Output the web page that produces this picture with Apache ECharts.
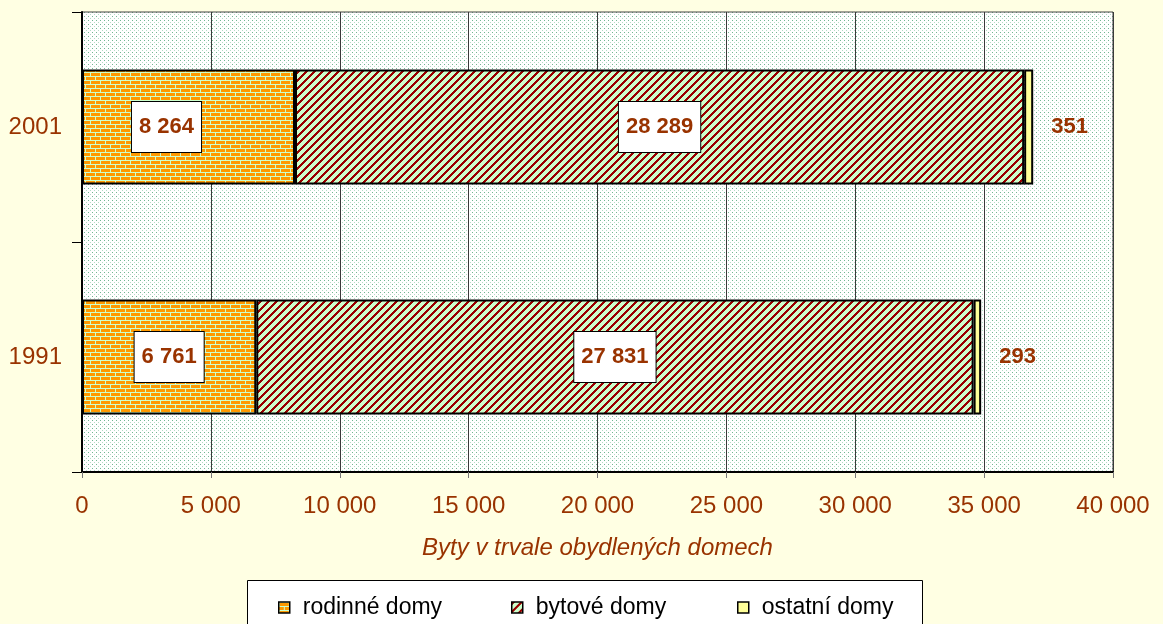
<!DOCTYPE html>
<html><head><meta charset="utf-8">
<script src="https://cdn.jsdelivr.net/npm/echarts@6/dist/echarts.min.js"></script>
<style>html,body{margin:0;padding:0;background:#FFFFE3;}#c{width:1163px;height:624px;}</style>
</head><body><div id="c"></div>
<script>
var categories = ['1991', '2001'];
var rodinne = [6761, 8264];
var bytove = [27831, 28289];
var ostatni = [293, 351];
var seriesNames = ['rodinné domy', 'bytové domy', 'ostatní domy'];
var xTicks = [0, 5000, 10000, 15000, 20000, 25000, 30000, 35000, 40000];
var axisTitle = 'Byty v trvale obydlených domech';

function fmt(v) { return String(v).replace(/\B(?=(\d{3})+(?!\d))/g, ' '); }

function makeTile(w, h, fn) {
  var c = document.createElement('canvas'); c.width = w; c.height = h;
  var ctx = c.getContext('2d'); fn(ctx, w, h); return c;
}
var dots = makeTile(4, 4, function (ctx) {
  ctx.fillStyle = '#ffffff'; ctx.fillRect(0, 0, 4, 4);
  ctx.fillStyle = '#72B692'; ctx.fillRect(0, 0, 1, 1);
  ctx.fillStyle = '#B4DCC5'; ctx.fillRect(2, 2, 1, 1);
});
var bricks = makeTile(20, 8, function (ctx) {
  ctx.fillStyle = '#CCFFCC'; ctx.fillRect(0, 0, 20, 8);
  ctx.fillStyle = '#FF9900';
  ctx.fillRect(1, 1, 9, 3); ctx.fillRect(11, 1, 9, 3);
  ctx.fillRect(0, 5, 5, 3); ctx.fillRect(6, 5, 9, 3); ctx.fillRect(16, 5, 4, 3);
});
var stripes = makeTile(8, 8, function (ctx) {
  ctx.fillStyle = '#CCFFCC'; ctx.fillRect(0, 0, 8, 8);
  ctx.fillStyle = '#990000';
  for (var x = 0; x < 8; x++) for (var y = 0; y < 8; y++) if ((x + y) % 8 < 3) ctx.fillRect(x, y, 1, 1);
});

var FONT = 'Liberation Sans, Arial, sans-serif';
var labelBox = {
  show: true, position: 'inside', formatter: function (p) { return fmt(p.value); },
  color: '#993300', fontFamily: FONT, fontWeight: 'bold', fontSize: 22,
  backgroundColor: '#ffffff', borderColor: '#000', borderWidth: 1, padding: [15, 7, 13, 7]
};
var txt = { color: '#993300', fontFamily: FONT, fontSize: 24 };

var chart = echarts.init(document.getElementById('c'));
chart.setOption({
  backgroundColor: '#FFFFE3',
  animation: false,
  grid: { left: 82, right: 50, top: 12, bottom: 152, show: true, backgroundColor: { image: dots, repeat: 'repeat' }, borderColor: '#444', borderWidth: 1 },
  xAxis: {
    type: 'value', min: 0, max: 40000, interval: 5000,
    axisLine: { show: true, lineStyle: { color: '#000', width: 2 } },
    axisTick: { show: true, length: 6, lineStyle: { color: '#777' } },
    axisLabel: Object.assign({ margin: 22, formatter: function (v) { return fmt(v); } }, txt),
    splitLine: { show: true, lineStyle: { color: '#3a3a3a', width: 1 } },
    name: axisTitle, nameLocation: 'middle', nameGap: 64,
    nameTextStyle: { color: '#993300', fontFamily: FONT, fontSize: 24, fontStyle: 'italic' }
  },
  yAxis: {
    type: 'category', data: categories,
    axisLine: { show: true, lineStyle: { color: '#000', width: 2 } },
    axisTick: { show: true, length: 10, lineStyle: { color: '#000', width: 1 } },
    axisLabel: Object.assign({ margin: 20 }, txt)
  },
  legend: [0, 1, 2].map(function (i) {
    return {
      data: [seriesNames[i]], left: [273, 506, 732][i], top: 591, icon: 'rect', itemWidth: 11, itemHeight: 11,
      itemGap: 6, selectedMode: false,
      itemStyle: { borderColor: '#000', borderWidth: 1.5 },
      textStyle: { color: '#000', fontFamily: FONT, fontSize: 23, padding: [0, 0, 0, 8] }
    };
  }),
  graphic: [{ type: 'rect', z: -1, shape: { x: 247.5, y: 580.5, width: 675, height: 60 }, style: { fill: '#fff', stroke: '#000', lineWidth: 1 } }],
  series: [
    { name: seriesNames[0], type: 'bar', stack: 's', barWidth: '50%', data: rodinne.map(function (v, i) { return i === 1 ? { value: v, label: { offset: [-22, 0] } } : v; }),
      itemStyle: { color: { image: bricks, repeat: 'repeat' }, borderColor: '#000', borderWidth: 2 }, label: labelBox },
    { name: seriesNames[1], type: 'bar', stack: 's', data: bytove,
      itemStyle: { color: { image: stripes, repeat: 'repeat' }, borderColor: '#000', borderWidth: 2 }, label: labelBox },
    { name: seriesNames[2], type: 'bar', stack: 's', data: ostatni,
      itemStyle: { color: '#FFFF99', borderColor: '#000', borderWidth: 2 },
      label: { show: true, position: 'right', distance: 18, color: '#993300', fontFamily: FONT, fontWeight: 'bold', fontSize: 22 } }
  ]
});
</script></body></html>
